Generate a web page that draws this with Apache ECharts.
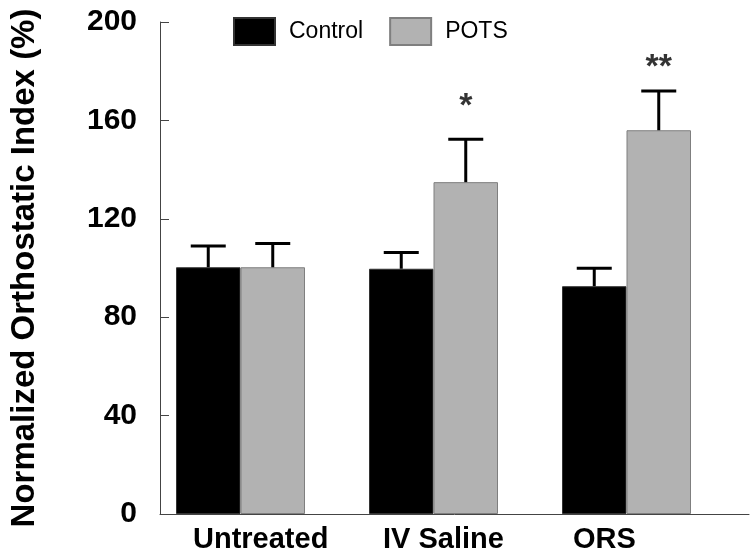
<!DOCTYPE html>
<html>
<head>
<meta charset="utf-8">
<script src="https://cdn.jsdelivr.net/npm/echarts@6/dist/echarts.min.js"></script>
<style>
  html, body { margin: 0; padding: 0; background: #fff; }
  #OrthoIndex { width: 750px; height: 554px; }
</style>
</head>
<body>
<div id="OrthoIndex"></div>
<script>
var categories = ['Untreated', 'IV Saline', 'ORS'];
var controlMean = [100.3, 99.7, 92.6];
var controlUpper = [108.9, 106.3, 99.9];
var potsMean = [100.3, 134.9, 156.0];
var potsUpper = [110.0, 152.3, 172.0];
var sigLabels = ['', '*', '**'];
var sigY = [null, 165.4, 181.6];
var yTicks = [0, 40, 80, 120, 160, 200];

var FONT = '"Liberation Sans", Arial, sans-serif';
var BAR_W = 64.5;

function errData(mean, upper) {
    var out = [];
    for (var i = 0; i < mean.length; i++) {
        out.push([i, mean[i], upper[i]]);
    }
    return out;
}

// draws the upward whisker + cap for one group, shifted to its bar
function errRender(shift) {
    return function (params, api) {
        var base = api.coord([api.value(0), api.value(1)]);
        var top = api.coord([api.value(0), api.value(2)]);
        var x = base[0] + shift;
        var style = { stroke: '#000', lineWidth: 3 };
        return {
            type: 'group',
            children: [
                { type: 'line', shape: { x1: x, y1: base[1], x2: x, y2: top[1] }, style: style },
                { type: 'line', shape: { x1: x - 17.5, y1: top[1], x2: x + 17.5, y2: top[1] }, style: style }
            ]
        };
    };
}

var sigData = [];
for (var i = 0; i < categories.length; i++) {
    if (sigY[i] != null) sigData.push({ value: [i, sigY[i]], label: { formatter: sigLabels[i] } });
}

var chart = echarts.init(document.getElementById('OrthoIndex'));
var option = {
    animation: false,
    textStyle: { fontFamily: FONT },
    legend: {
        left: 233,
        top: 17,
        padding: 0,
        icon: 'rect',
        itemWidth: 41,
        itemHeight: 27,
        itemGap: 26,
        textStyle: { fontFamily: FONT, fontSize: 23, color: '#000', padding: [0, 0, 0, 9] },
        data: ['Control', 'POTS']
    },
    grid: [
        // bars
        { left: 144, right: 27, top: 22, bottom: 40 },
        // axes frame
        { left: 138, right: 1, top: 22, bottom: 40 },
        // category labels
        { left: 98, right: 82, top: 22, bottom: 40 }
    ],
    xAxis: [
        {
            gridIndex: 0, type: 'category', data: categories,
            axisLine: { show: false }, axisTick: { show: false }, axisLabel: { show: false }
        },
        {
            gridIndex: 1, type: 'value', min: 0, max: 1,
            axisLine: { show: true, onZero: false, lineStyle: { color: '#444', width: 1 } },
            axisTick: { show: false }, axisLabel: { show: false }, splitLine: { show: false }
        },
        {
            gridIndex: 2, type: 'category', data: categories,
            axisLine: { show: false }, axisTick: { show: false },
            axisLabel: {
                align: 'left', margin: 17, fontFamily: FONT, fontSize: 29,
                fontWeight: 'bold', color: '#000'
            }
        }
    ],
    yAxis: [
        { gridIndex: 0, type: 'value', min: 0, max: 200, show: false },
        {
            gridIndex: 1, type: 'value', min: 0, max: 200, interval: 40,
            name: 'Normalized Orthostatic Index (%)',
            nameLocation: 'middle',
            nameGap: 119,
            nameTextStyle: { fontFamily: FONT, fontSize: 33, fontWeight: 'bold', color: '#000' },
            axisLine: { show: true, lineStyle: { color: '#444', width: 1 } },
            axisTick: { show: true, inside: true, length: 9, lineStyle: { color: '#444' } },
            axisLabel: {
                margin: 23, fontFamily: FONT, fontSize: 30, fontWeight: 'bold', color: '#000',
                formatter: function (v) { return yTicks.indexOf(v) >= 0 ? String(v) : ''; }
            },
            splitLine: { show: false }
        },
        { gridIndex: 2, type: 'value', min: 0, max: 200, show: false }
    ],
    series: [
        {
            name: 'Control', type: 'bar', xAxisIndex: 0, yAxisIndex: 0,
            barWidth: BAR_W, barGap: '0%',
            itemStyle: { color: '#000', borderColor: '#333', borderWidth: 1 },
            data: controlMean
        },
        {
            name: 'POTS', type: 'bar', xAxisIndex: 0, yAxisIndex: 0,
            barWidth: BAR_W, barGap: '0%',
            itemStyle: { color: '#b2b2b2', borderColor: '#7f7f7f', borderWidth: 1 },
            data: potsMean
        },
        {
            type: 'custom', xAxisIndex: 0, yAxisIndex: 0, z: 5,
            renderItem: errRender(-BAR_W / 2),
            data: errData(controlMean, controlUpper)
        },
        {
            type: 'custom', xAxisIndex: 0, yAxisIndex: 0, z: 5,
            renderItem: errRender(BAR_W / 2),
            data: errData(potsMean, potsUpper)
        },
        {
            type: 'scatter', xAxisIndex: 0, yAxisIndex: 0, symbolSize: 0,
            label: {
                show: true, position: 'inside', offset: [BAR_W / 2, 0],
                fontFamily: FONT, fontSize: 34, fontWeight: 'bold', color: '#000'
            },
            data: sigData
        }
    ]
};
chart.setOption(option);
</script>
</body>
</html>
